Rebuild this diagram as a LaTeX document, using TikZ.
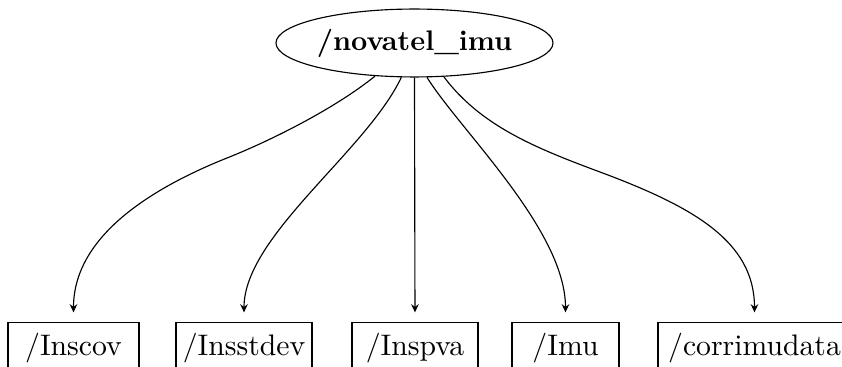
\documentclass[tikz,border=0pt]{standalone}
\usetikzlibrary{shapes.geometric,arrows.meta}
\begin{document}
\begin{tikzpicture}[x=0.3534pt, y=-0.3534pt,
  font=\fontsize{10.5}{12.6}\selectfont,
  topic/.style={draw, ellipse, inner sep=0pt, minimum width=97.9pt, minimum height=24pt,
    font=\fontsize{10}{12}\selectfont\bfseries},
  leaf/.style={draw, rectangle, anchor=north, inner xsep=0pt, inner ysep=3.6pt,
    text height=7.9pt, text depth=2.6pt, minimum height=18.4pt},
  link/.style={-{Stealth[length=2.9pt, width=2.7pt, inset=1pt]}, shorten >=3.3pt}]
\useasboundingbox (0,0) rectangle (842,367);

% publisher node
\node[topic] (root) at (414.5,43) {/novatel\_imu};

% topic boxes
\node[leaf, minimum width=46.3pt] (b1) at (73.5,321.7) {/Inscov};
\node[leaf, minimum width=48.1pt] (b2) at (244,321.7) {/Insstdev};
\node[leaf, minimum width=44.5pt] (b3) at (415,321.7) {/Inspva};
\node[leaf, minimum width=37.8pt] (b4) at (565.5,321.7) {/Imu};
\node[leaf, minimum width=68.2pt] (b5) at (754.5,321.7) {/corrimudata};

% bend points of the outer edges
\coordinate (m1) at (227,158);
\coordinate (m5) at (600,172);

% edges
\draw[link] (root.220.6) .. controls +(-39,31.5) and +(46.5,-18.5) .. (m1)
  .. controls +(-65,26) and +(0,-90) .. (b1.north);
\draw[link] (root.249.8) .. controls +(-35,74) and +(0,-85.7) .. (b2.north);
\draw[link] (root.270) -- (b3.north);
\draw[link] (root.290.2) .. controls +(33,53) and +(0,-91.7) .. (b4.north);
\draw[link] (root.311) .. controls +(36.6,48.7) and +(-66,-24.5) .. (m5)
  .. controls +(94,35) and +(0,-80) .. (b5.north);
\end{tikzpicture}
\end{document}
